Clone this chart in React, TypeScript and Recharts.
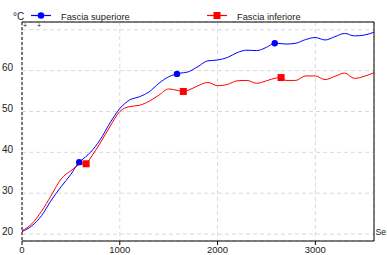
import { CartesianGrid, ComposedChart, Line, ReferenceLine, Scatter, XAxis, YAxis } from "recharts";

// time axis (seconds) and temperatures
const timesSec = [
  0, 100, 200, 300, 400, 500, 600, 700, 800, 900, 1000, 1100, 1200, 1300, 1400, 1500, 1600, 1700, 1800,
  1900, 2000, 2100, 2200, 2300, 2400, 2500, 2600, 2700, 2800, 2900, 3000, 3100, 3200, 3300, 3400, 3500, 3600,
];
const superiore = [
  20.6, 22.0, 24.5, 28.3, 31.6, 34.6, 37.9, 40.0, 43.1, 47.2, 50.7, 52.8, 53.6, 54.8, 56.9, 58.5, 59.3, 59.7, 61.0,
  62.4, 62.6, 63.2, 64.4, 65.0, 64.9, 65.7, 66.7, 66.5, 66.7, 67.6, 68.1, 67.5, 68.3, 69.1, 68.5, 68.7, 69.4,
];
const inferiore = [
  20.8, 22.5, 25.6, 29.5, 33.5, 35.5, 37.1, 38.6, 42.3, 46.3, 50.0, 51.2, 51.5, 52.5, 54.0, 55.5, 55.1, 55.2, 56.3,
  57.1, 56.3, 56.6, 57.5, 57.6, 56.9, 57.5, 58.2, 57.6, 57.6, 58.7, 58.7, 57.8, 58.6, 59.4, 58.1, 58.6, 59.5,
];

// marker positions on each curve
const supMarkerTimes = [585, 1585, 2585];
const supMarkerValues = [37.6, 59.2, 66.7];
const infMarkerTimes = [656, 1650, 2650];
const infMarkerValues = [37.2, 54.9, 58.3];

const seriesNames = ["Fascia superiore", "Fascia inferiore"];
const xTicks = [0, 1000, 2000, 3000];
const yTicks = [20, 30, 40, 50, 60, 70];
const xDomain = [0, 3600];
const yDomain = [18.3, 71.9];

const toPoints = (ts: number[], vs: number[]) => ts.map((t, i) => ({ t, v: vs[i] }));

const mergeLine = (ts: number[], vs: number[], mt: number[], mv: number[]) =>
  [...toPoints(ts, vs), ...toPoints(mt, mv)].sort((a, b) => a.t - b.t);

const supLine = mergeLine(timesSec, superiore, supMarkerTimes, supMarkerValues);
const infLine = mergeLine(timesSec, inferiore, infMarkerTimes, infMarkerValues);
const supMarkers = toPoints(supMarkerTimes, supMarkerValues);
const infMarkers = toPoints(infMarkerTimes, infMarkerValues);

const FONT = "'Liberation Sans', Arial, sans-serif";
const BLUE = "#0000ff";
const RED = "#ff0000";

const YTick = ({ x, y, payload }: any) => {
  if (payload.value === 70) return null;
  return (
    <text x={x - 1} y={y - 3} dy="0.35em" textAnchor="end" fontSize={10} fontFamily={FONT} fill="#222">
      {payload.value}
    </text>
  );
};

const XTick = ({ x, y, payload }: any) => (
  <text x={x} y={y} dy="0.71em" textAnchor="middle" fontSize={9.5} fontFamily={FONT} fill="#222">
    {payload.value}
  </text>
);

const Circle = ({ cx, cy }: any) => <circle cx={cx} cy={cy} r={3.2} fill={BLUE} />;
const Square = ({ cx, cy }: any) => <rect x={cx - 3.5} y={cy - 3.5} width={7} height={7} fill={RED} />;

const Overlay = () => (
  <svg width={387} height={255} style={{ position: "absolute", left: 0, top: 0, pointerEvents: "none" }}>
    <g fontFamily={FONT} fontSize={9.3} fill="#222">
      <text x={13} y={19.5} fontSize={10}>°C</text>
      <line x1={31} x2={51} y1={15.5} y2={15.5} stroke={BLUE} strokeWidth={1.2} />
      <circle cx={41} cy={15.5} r={3.3} fill={BLUE} />
      <text x={61} y={19.5}>{seriesNames[0]}</text>
      <line x1={207} x2={227} y1={15.5} y2={15.5} stroke={RED} strokeWidth={1.2} />
      <rect x={213.5} y={12} width={7} height={7} fill={RED} />
      <text x={237} y={19.5}>{seriesNames[1]}</text>
      <text x={23} y={28} fontSize={7}>+</text>
      <text x={37} y={28} fontSize={7}>+</text>
      <text x={375.5} y={235} fontSize={8.8}>Se</text>
    </g>
  </svg>
);

export default function App() {
  return (
    <div style={{ position: "relative", width: 387, height: 255, background: "#fff" }}>
      <style>{`body{margin:0}`}</style>
      <ComposedChart width={387} height={255} margin={{ top: 22, right: 13, bottom: 0, left: 0 }}>
        <CartesianGrid stroke="#d9d9d9" strokeDasharray="4 3" />
        <XAxis
          dataKey="t"
          type="number"
          domain={xDomain}
          ticks={xTicks}
          height={14}
          axisLine={{ stroke: "#000" }}
          tickLine={{ stroke: "#000" }}
          tickSize={4}
          tickMargin={1}
          tick={<XTick />}
          allowDataOverflow
        />
        <YAxis
          dataKey="v"
          type="number"
          domain={yDomain}
          ticks={yTicks}
          width={22}
          axisLine={{ stroke: "#000", strokeDasharray: "3 2" }}
          tickLine={false}
          tick={<YTick />}
          allowDataOverflow
        />
        <ReferenceLine y={yDomain[1]} stroke="#000" />
        <ReferenceLine x={xDomain[1]} stroke="#000" />
        <Line
          data={supLine}
          dataKey="v"
          name={seriesNames[0]}
          type="monotone"
          stroke={BLUE}
          strokeWidth={1}
          dot={false}
          isAnimationActive={false}
        />
        <Line
          data={infLine}
          dataKey="v"
          name={seriesNames[1]}
          type="monotone"
          stroke={RED}
          strokeWidth={1}
          dot={false}
          isAnimationActive={false}
        />
        <Scatter data={supMarkers} dataKey="v" shape={<Circle />} isAnimationActive={false} />
        <Scatter data={infMarkers} dataKey="v" shape={<Square />} isAnimationActive={false} />
      </ComposedChart>
      <Overlay />
    </div>
  );
}
